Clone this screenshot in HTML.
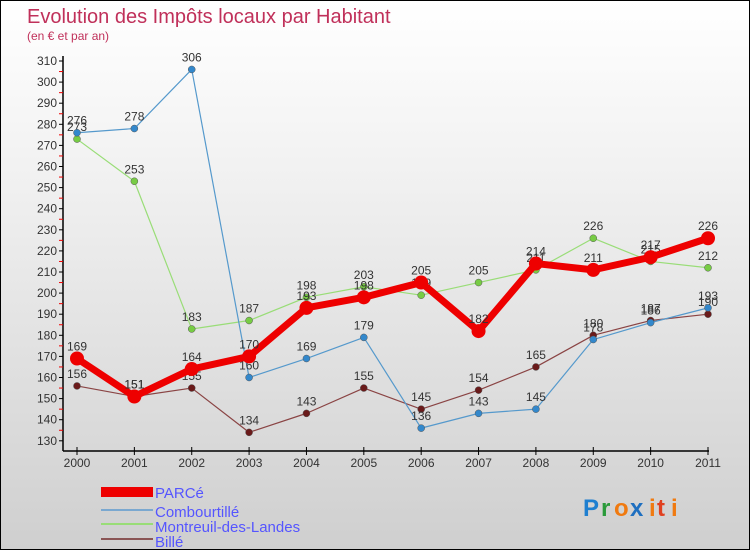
<!DOCTYPE html>
<html><head><meta charset="utf-8"><style>
body{margin:0}
#c{width:750px;height:550px;position:relative;box-sizing:border-box;border:1px solid #000;background:linear-gradient(#fff,#f2f2f2 30%,#cfcfcf);font-family:"Liberation Sans",sans-serif;overflow:hidden}
</style></head><body>
<div id="c">
<svg id="s" width="750" height="550" style="position:absolute;left:0;top:0">
<text x="26" y="22" font-size="20" fill="#c0305a">Evolution des Impôts locaux par Habitant</text>
<text x="26" y="39" font-size="12" fill="#c0305a">(en € et par an)</text>
<g id="axes"></g><g id="series"></g>
<g>
<rect x="100" y="486" width="52" height="10" fill="#e00"/>
<line x1="100" y1="509" x2="152" y2="509" stroke="#7aa8d0" stroke-width="2"/>
<line x1="100" y1="523" x2="152" y2="523" stroke="#99dd77" stroke-width="2"/>
<line x1="100" y1="538" x2="152" y2="538" stroke="#8a5555" stroke-width="2"/>
<g font-size="15" fill="#5555ff">
<text x="154" y="497">PARCé</text>
<text x="154" y="516">Combourtillé</text>
<text x="154" y="531">Montreuil-des-Landes</text>
<text x="154" y="546">Billé</text>
</g></g>
<g font-size="24" font-weight="bold">
<text x="582" y="515" fill="#1e7fd0">P</text><text x="600" y="515" fill="#2a9a3a">r</text><text x="613" y="515" fill="#f07a10">o</text><text x="629" y="515" fill="#1e6fc0">x</text><text x="648" y="515" fill="#f07a10">i</text><text x="656" y="515" fill="#e04020">t</text><text x="670" y="515" fill="#f07a10">i</text>
</g>
</svg>
</div>
<script>
const years=[2000,2001,2002,2003,2004,2005,2006,2007,2008,2009,2010,2011];
const parce=[169,151,164,170,193,198,205,182,214,211,217,226];
const combourtille=[276,278,306,160,169,179,136,143,145,178,186,193];
const montreuil=[273,253,183,187,198,203,199,205,211,226,215,212];
const bille=[156,151,155,134,143,155,145,154,165,180,187,190];
const yTicks=[130,140,150,160,170,180,190,200,210,220,230,240,250,260,270,280,290,300,310];
const NS="http://www.w3.org/2000/svg";
function X(i){return 76+i*(707-76)/11;}
function Y(v){return 60+(310-v)*21.1/10;}
function mk(t,a,p){const e=document.createElementNS(NS,t);for(const k in a)e.setAttribute(k,a[k]);p.appendChild(e);return e;}
const ax=document.getElementById('axes');
let l=mk('line',{x1:62,y1:55,x2:62,y2:450,stroke:'#000','stroke-width':1.5},ax);


l=mk('line',{x1:62,y1:450,x2:708,y2:450,stroke:'#000','stroke-width':1.5},ax);


yTicks.forEach((v,i)=>{
 mk('line',{x1:58,y1:Y(v),x2:62,y2:Y(v),stroke:'#000'},ax);
 if(i<yTicks.length-1)mk('line',{x1:58,y1:Y(v+5),x2:62,y2:Y(v+5),stroke:'#e00'},ax);
 const t=mk('text',{x:56,y:Y(v)+4,'text-anchor':'end','font-size':12,fill:'#333'},ax);t.textContent=v;
 
 
});
years.forEach((y,i)=>{
 mk('line',{x1:X(i),y1:446,x2:X(i),y2:454,stroke:'#000'},ax);
 const t=mk('text',{x:X(i),y:466,'text-anchor':'middle','font-size':12,fill:'#333'},ax);t.textContent=y;
 
 
});
const sg=document.getElementById('series');
function draw(data,name,col,fill,w,r){
 const g=mk('g',{},sg);
 
 
 const pl=mk('polyline',{points:data.map((v,i)=>X(i)+','+Y(v)).join(' '),fill:'none',stroke:col,'stroke-width':w,'stroke-linejoin':'round'},g);
 
 
 data.forEach((v,i)=>{
  const c=mk('circle',{cx:X(i),cy:Y(v),r:r,fill:fill,stroke:col==='#e00'?'none':'#555','stroke-width':0.5},g);
  
  
  const t=mk('text',{x:X(i),y:Y(v)-8,'text-anchor':'middle','font-size':12,fill:'#333'},g);t.textContent=v;
  
  
 });
}
draw(bille,'bille','#8a4444','#6a1a1a',1.2,3.5);
draw(montreuil,'montreuil','#99dd77','#77cc44',1.2,3.5);
draw(combourtille,'combourtille','#5599cc','#3388cc',1.2,3.5);
draw(parce,'parce','#e00','#e00',7,7);
</script>
</body></html>
